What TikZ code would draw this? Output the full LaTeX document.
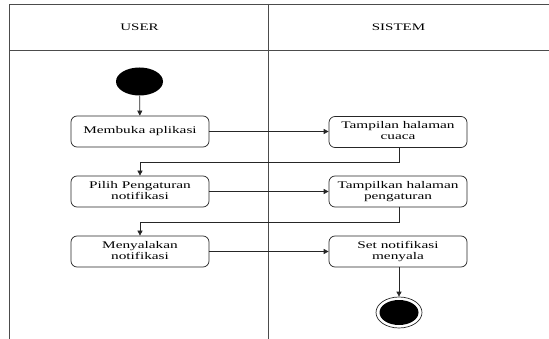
\documentclass[tikz,border=0pt]{standalone}
\usepackage{fontspec}
\usepackage{graphicx}
\setmainfont{Liberation Serif}
% wide text: serif stretched horizontally
\newcommand{\widetext}[1]{\scalebox{1.5}[1]{\begin{tabular}{@{}c@{}}#1\end{tabular}}}
\usetikzlibrary{arrows.meta,shapes.geometric}
\begin{document}
\begin{tikzpicture}[x=1pt,y=-1pt,
  lane/.style={draw=black!70,line width=0.8pt},
  act/.style={draw=black!85,line width=0.7pt,rounded corners=6pt,minimum width=138pt,minimum height=31pt,
    align=center,inner sep=0pt,font=\fontsize{10.2}{11}\selectfont},
  flow/.style={draw=black!85,line width=0.7pt,-{Triangle[length=5pt,width=5pt]}},
  hdr/.style={font=\fontsize{10}{12}\selectfont}]
\useasboundingbox (0,0) rectangle (549,339);
% swimlane frame
\draw[lane] (9,339) -- (9,4) -- (549,4);
\draw[lane] (9,50) -- (549,50);
\draw[lane] (268,4) -- (268,339);
\node[hdr] (huser) at (139.5,28) {\widetext{USER}};
\node[hdr] (hsis) at (398.5,28) {\widetext{SISTEM}};
% start and end
\node[ellipse,fill=black,minimum width=47pt,minimum height=28pt,inner sep=0pt] (start) at (139.5,81.5) {};
\node[ellipse,draw=black!85,line width=0.7pt,minimum width=46pt,minimum height=31pt,inner sep=0pt] (end) at (399,312.5) {};
\node[ellipse,fill=black,minimum width=39pt,minimum height=25pt,inner sep=0pt] (endin) at (399,312.5) {};
% activities
\node[act] (u1) at (140,131.5) {\widetext{Membuka aplikasi}};
\node[act] (s1) at (398,132) {\widetext{Tampilan halaman\\cuaca}};
\node[act] (u2) at (140,191.5) {\widetext{Pilih Pengaturan\\notifikasi}};
\node[act] (s2) at (398,191.5) {\widetext{Tampilkan halaman\\pengaturan}};
\node[act] (u3) at (140,251.5) {\widetext{Menyalakan\\notifikasi}};
\node[act] (s3) at (398,251.5) {\widetext{Set notifikasi\\menyala}};
% flows
\draw[flow] (start) -- (u1);
\draw[flow] (u1) -- (s1.west |- u1);
\draw[flow] (s1.south -| 399,0) -- (399,162) -| (u2.north);
\draw[flow] (u2) -- (s2.west |- u2);
\draw[flow] (s2.south -| 399,0) -- (399,222) -| (u3.north);
\draw[flow] (u3) -- (s3.west |- u3);
\draw[flow] (s3.south -| 399,0) -- (end.north);
\end{tikzpicture}
\end{document}
